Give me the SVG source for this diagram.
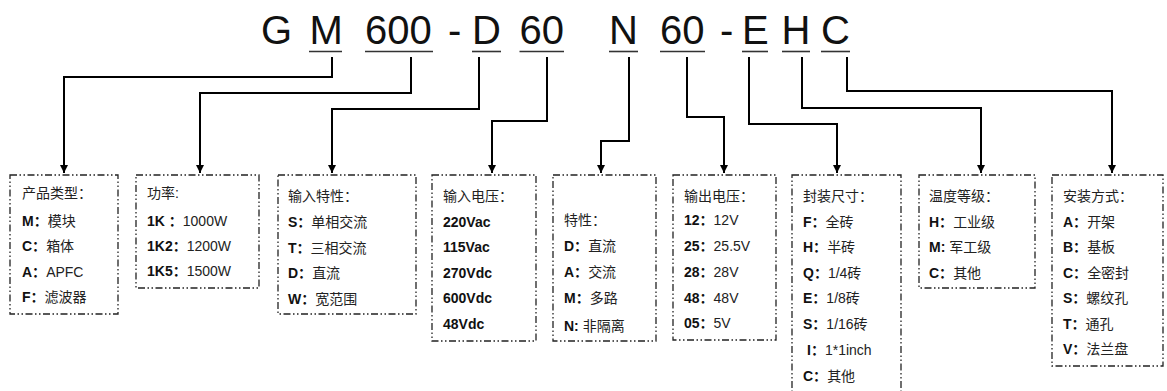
<svg xmlns="http://www.w3.org/2000/svg" width="1167" height="391" viewBox="0 0 1167 391">
<defs>
<style>
.t{font-family:"Liberation Sans","Noto Sans CJK SC",sans-serif;font-size:40px;fill:#111}
.u{stroke:#333;stroke-width:1.6}
.c{fill:none;stroke:#000;stroke-width:2}
.box{fill:none;stroke:#222;stroke-width:1.3;stroke-dasharray:7 2.5 1.5 2.5 1.5 2.5}
.l{font-family:"Liberation Sans","Noto Sans CJK SC",sans-serif;font-size:14px;fill:#222}
.b{font-weight:bold;fill:#111}
</style>
<marker id="ah" markerWidth="8" markerHeight="8" refX="8" refY="4" orient="auto" markerUnits="userSpaceOnUse">
<path d="M0,0 L8,4 L0,8 z" fill="#000"/>
</marker>
</defs>
<rect width="1167" height="391" fill="#fff"/>
<g id="title">
<text class="t" x="261" y="44">G</text>
<text class="t" x="309.5" y="44">M</text>
<text class="t" x="365" y="44">600</text>
<text class="t" x="448" y="44">-</text>
<text class="t" x="472" y="44">D</text>
<text class="t" x="519.5" y="44">60</text>
<text class="t" x="609" y="44">N</text>
<text class="t" x="660" y="44">60</text>
<text class="t" x="720" y="44">-</text>
<text class="t" x="742" y="44">E</text>
<text class="t" x="781.5" y="44">H</text>
<text class="t" x="821" y="44">C</text>
<line class="u" x1="309" y1="51.5" x2="342" y2="51.5"/>
<line class="u" x1="365" y1="51.5" x2="433" y2="51.5"/>
<line class="u" x1="472" y1="51.5" x2="501" y2="51.5"/>
<line class="u" x1="519.5" y1="51.5" x2="564" y2="51.5"/>
<line class="u" x1="609" y1="51.5" x2="638" y2="51.5"/>
<line class="u" x1="660" y1="51.5" x2="705" y2="51.5"/>
<line class="u" x1="742" y1="51.5" x2="768" y2="51.5"/>
<line class="u" x1="782" y1="51.5" x2="810" y2="51.5"/>
<line class="u" x1="821" y1="51.5" x2="850" y2="51.5"/>
</g>
<g id="connectors">
<path class="c" d="M332,57 V77 H64 V173" marker-end="url(#ah)"/>
<path class="c" d="M411,57 V93 H200 V173" marker-end="url(#ah)"/>
<path class="c" d="M479,57 V109 H332 V173" marker-end="url(#ah)"/>
<path class="c" d="M547,57 V121 H492 V173" marker-end="url(#ah)"/>
<path class="c" d="M629,57 V141 H601 V173" marker-end="url(#ah)"/>
<path class="c" d="M687,57 V117 H724 V173" marker-end="url(#ah)"/>
<path class="c" d="M749,57 V124 H837 V173" marker-end="url(#ah)"/>
<path class="c" d="M802,57 V108 H981 V173" marker-end="url(#ah)"/>
<path class="c" d="M847,57 V91 H1112 V173" marker-end="url(#ah)"/>
</g>
<g id="box-product">
<rect class="box" x="10" y="175" width="108" height="139"/>
<text class="l" x="22" y="198">产品类型：</text>
<text class="l" x="22" y="226"><tspan class="b">M：</tspan>模块</text>
<text class="l" x="22" y="251"><tspan class="b">C：</tspan>箱体</text>
<text class="l" x="22" y="277"><tspan class="b">A：</tspan>APFC</text>
<text class="l" x="22" y="302"><tspan class="b">F：</tspan>滤波器</text>
</g>
<g id="box-power">
<rect class="box" x="136" y="175" width="123" height="113"/>
<text class="l" x="147" y="198">功率:</text>
<text class="l" x="147" y="226"><tspan class="b">1K ：</tspan>1000W</text>
<text class="l" x="147" y="251"><tspan class="b">1K2：</tspan>1200W</text>
<text class="l" x="147" y="276"><tspan class="b">1K5：</tspan>1500W</text>
</g>
<g id="box-input-type">
<rect class="box" x="278" y="175" width="138" height="139"/>
<text class="l" x="288" y="201">输入特性：</text>
<text class="l" x="288" y="227"><tspan class="b">S：</tspan>单相交流</text>
<text class="l" x="288" y="253"><tspan class="b">T：</tspan>三相交流</text>
<text class="l" x="288" y="278"><tspan class="b">D：</tspan>直流</text>
<text class="l" x="288" y="304"><tspan class="b">W：</tspan>宽范围</text>
</g>
<g id="box-input-voltage">
<rect class="box" x="432" y="175" width="104" height="166"/>
<text class="l" x="443" y="201">输入电压：</text>
<text class="l b" x="443" y="227">220Vac</text>
<text class="l b" x="443" y="252">115Vac</text>
<text class="l b" x="443" y="278">270Vdc</text>
<text class="l b" x="443" y="303">600Vdc</text>
<text class="l b" x="443" y="329">48Vdc</text>
</g>
<g id="box-feature">
<rect class="box" x="553" y="175" width="103" height="166"/>
<text class="l" x="564" y="225">特性：</text>
<text class="l" x="564" y="251"><tspan class="b">D：</tspan>直流</text>
<text class="l" x="564" y="277"><tspan class="b">A：</tspan>交流</text>
<text class="l" x="564" y="303"><tspan class="b">M：</tspan>多路</text>
<text class="l" x="564" y="331"><tspan class="b">N:</tspan> 非隔离</text>
</g>
<g id="box-output-voltage">
<rect class="box" x="673" y="175" width="103" height="165"/>
<text class="l" x="684" y="201">输出电压：</text>
<text class="l" x="684" y="225"><tspan class="b">12：</tspan>12V</text>
<text class="l" x="684" y="251"><tspan class="b">25：</tspan>25.5V</text>
<text class="l" x="684" y="277"><tspan class="b">28：</tspan>28V</text>
<text class="l" x="684" y="303"><tspan class="b">48：</tspan>48V</text>
<text class="l" x="684" y="328"><tspan class="b">05：</tspan>5V</text>
</g>
<g id="box-package">
<rect class="box" x="792" y="175" width="109" height="225"/>
<text class="l" x="803" y="201">封装尺寸：</text>
<text class="l" x="803" y="227"><tspan class="b">F：</tspan>全砖</text>
<text class="l" x="803" y="252"><tspan class="b">H：</tspan>半砖</text>
<text class="l" x="803" y="278"><tspan class="b">Q：</tspan>1/4砖</text>
<text class="l" x="803" y="303"><tspan class="b">E：</tspan>1/8砖</text>
<text class="l" x="803" y="329"><tspan class="b">S：</tspan>1/16砖</text>
<text class="l" x="807" y="355"><tspan class="b">I：</tspan>1*1inch</text>
<text class="l" x="803" y="381"><tspan class="b">C：</tspan>其他</text>
</g>
<g id="box-temperature">
<rect class="box" x="919" y="175" width="116" height="113"/>
<text class="l" x="929" y="201">温度等级：</text>
<text class="l" x="929" y="227"><tspan class="b">H：</tspan>工业级</text>
<text class="l" x="929" y="252"><tspan class="b">M:</tspan> 军工级</text>
<text class="l" x="929" y="278"><tspan class="b">C：</tspan>其他</text>
</g>
<g id="box-mounting">
<rect class="box" x="1052" y="175" width="111" height="191"/>
<text class="l" x="1063" y="201">安装方式：</text>
<text class="l" x="1063" y="227"><tspan class="b">A：</tspan>开架</text>
<text class="l" x="1063" y="252"><tspan class="b">B：</tspan>基板</text>
<text class="l" x="1063" y="278"><tspan class="b">C：</tspan>全密封</text>
<text class="l" x="1063" y="303"><tspan class="b">S：</tspan>螺纹孔</text>
<text class="l" x="1063" y="329"><tspan class="b">T：</tspan>通孔</text>
<text class="l" x="1063" y="354"><tspan class="b">V：</tspan>法兰盘</text>
</g>
</svg>
